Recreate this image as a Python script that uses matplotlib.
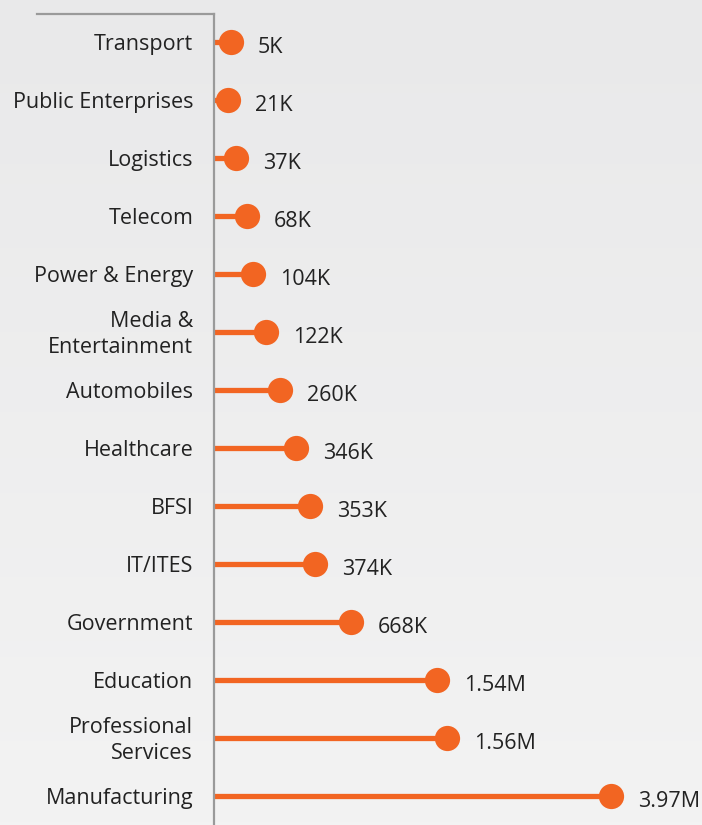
import numpy as np
import matplotlib.pyplot as plt
from matplotlib.lines import Line2D

# sectors, top to bottom
sectors = ["Transport", "Public Enterprises", "Logistics", "Telecom",
           "Power & Energy", "Media &\nEntertainment", "Automobiles",
           "Healthcare", "BFSI", "IT/ITES", "Government", "Education",
           "Professional\nServices", "Manufacturing"]
# value labels as printed on the chart
value_labels = ["5K", "21K", "37K", "68K", "104K", "122K", "260K", "346K",
                "353K", "374K", "668K", "1.54M", "1.56M", "3.97M"]
# dot positions as drawn in the picture (scale: thousands)
dot_pos = [170, 140, 220, 330, 390, 520, 660, 820, 960, 1010, 1370,
           2230, 2330, 3970]

ORANGE = "#F26522"
TEXT = "#222222"
AXIS = "#9a9a9a"

plt.rcParams['font.family'] = ['Open Sans', 'DejaVu Sans']

fig = plt.figure(figsize=(7.02, 8.25), dpi=100)

# light gray background with a soft vertical gradient
bg = fig.add_axes([0, 0, 1, 1], zorder=-10)
grad = np.linspace(0, 1, 256).reshape(-1, 1)
bg.imshow(grad, aspect='auto', cmap=plt.matplotlib.colors.LinearSegmentedColormap.from_list(
    "bg", ["#e9e9ea", "#f3f3f3"]), extent=[0, 1, 0, 1])
bg.axis('off')

ax = fig.add_axes([214 / 702, 0, 1 - 214 / 702, 811 / 825])
ax.set_facecolor('none')

y = np.arange(len(sectors))
ax.hlines(y, 0, dot_pos, color=ORANGE, linewidth=3.8, zorder=2)
ax.scatter(dot_pos, y, s=330, color=ORANGE, zorder=3, linewidths=0)

for xi, yi, lab in zip(dot_pos, y, value_labels):
    ax.annotate(lab, (xi, yi), xytext=(19.5, -4), textcoords='offset points',
                ha='left', va='center', fontsize=15.5, color=TEXT)

# category labels, right aligned left of the axis line
for yi, name in zip(y, sectors):
    ax.annotate(name, (0, yi), xycoords=('axes fraction', 'data'),
                xytext=(-15, -2), textcoords='offset points',
                ha='right', va='center', multialignment='right',
                fontsize=15.5, color=TEXT, linespacing=1.3,
                annotation_clip=False)

ax.set_xlim(0, 4880)
ax.set_ylim(13.5, -0.483)
ax.set_yticks([])
ax.set_xticks([])

for s in ['top', 'right', 'bottom']:
    ax.spines[s].set_visible(False)
ax.spines['left'].set_color(AXIS)
ax.spines['left'].set_linewidth(1.6)

# short top rule over the label column
fig.add_artist(Line2D([37 / 702, 214 / 702], [1 - 14 / 825, 1 - 14 / 825],
                      color=AXIS, linewidth=1.6, transform=fig.transFigure))

fig.savefig("out.png", dpi=100)
